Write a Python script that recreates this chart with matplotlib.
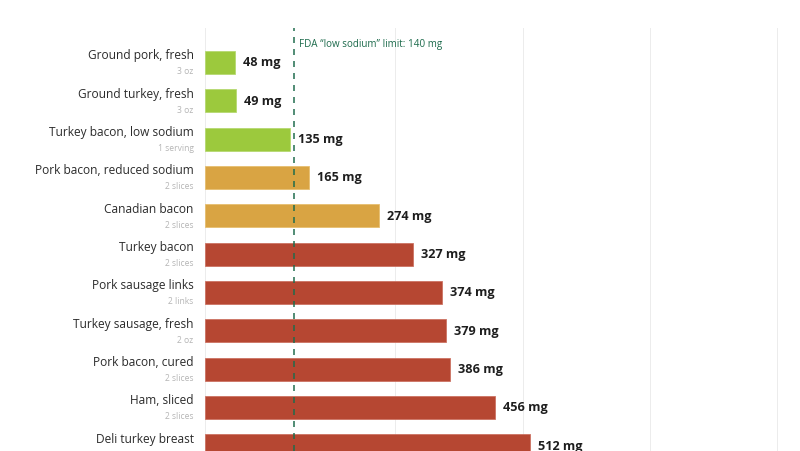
import matplotlib
matplotlib.use("Agg")
import matplotlib.pyplot as plt
from matplotlib.transforms import blended_transform_factory

names = ["Ground pork, fresh", "Ground turkey, fresh", "Turkey bacon, low sodium",
         "Pork bacon, reduced sodium", "Canadian bacon", "Turkey bacon",
         "Pork sausage links", "Turkey sausage, fresh", "Pork bacon, cured",
         "Ham, sliced", "Deli turkey breast"]
servings = ["3 oz", "3 oz", "1 serving", "2 slices", "2 slices", "2 slices",
            "2 links", "2 oz", "2 slices", "2 slices", ""]
sodium = [48, 49, 135, 165, 274, 327, 374, 379, 386, 456, 512]
levels = ["low", "low", "low", "mid", "mid", "high", "high", "high", "high", "high", "high"]
gridvals = [0, 300, 500, 700, 900]
fda_limit = 140
fda_label = "FDA \u201clow sodium\u201d limit: 140 mg"

colors = {"low": "#9CC93D", "mid": "#D9A443", "high": "#B64732"}
edges = {"low": "#b5d86f", "mid": "#e6bd6d", "high": "#cc7060"}

DPI = 72
fig = plt.figure(figsize=(800 / DPI, 451 / DPI), dpi=DPI)
ax = fig.add_axes([204.5 / 800, 0, 1 - 204.5 / 800, 1 - 28 / 451])

ys = list(range(len(names)))
ax.barh(ys, sodium, height=0.6, color=[colors[l] for l in levels],
        edgecolor=[edges[l] for l in levels], linewidth=0.8, zorder=2)

for g in gridvals:
    ax.axvline(g, color="#ececec", lw=1, zorder=1)
ax.axvline(fda_limit, color="#1d6b4c", lw=1.5, ls=(0, (4, 4)), zorder=3)

ax.set_xlim(0, 936)
ax.set_ylim(10.14, -0.9)
ax.axis("off")

font = "Open Sans"
trans = blended_transform_factory(ax.transAxes, ax.transData)
for y, n, s, v in zip(ys, names, servings, sodium):
    ax.annotate(n, xy=(0, y), xycoords=trans, xytext=(-11, 6.5), textcoords="offset points",
                ha="right", va="center", fontsize=11.9, color="#2b2b2b", family=font,
                annotation_clip=False)
    if s:
        ax.annotate(s, xy=(0, y), xycoords=trans, xytext=(-11, -9.5), textcoords="offset points",
                    ha="right", va="center", fontsize=8.5, color="#b5b5b5", family=font,
                    annotation_clip=False)
    ax.annotate(f"{v} mg", xy=(v, y), xytext=(8, -0.5), textcoords="offset points",
                ha="left", va="center", fontsize=12.6, fontweight="bold", color="#1e1e1e",
                family=font, annotation_clip=False)

ax.annotate(fda_label, xy=(fda_limit, -0.9), xytext=(5, -16.5), textcoords="offset points",
            ha="left", va="center", fontsize=9.9, color="#1d6b4c", family=font,
            annotation_clip=False)

fig.savefig("out.png", dpi=DPI, facecolor="white")
